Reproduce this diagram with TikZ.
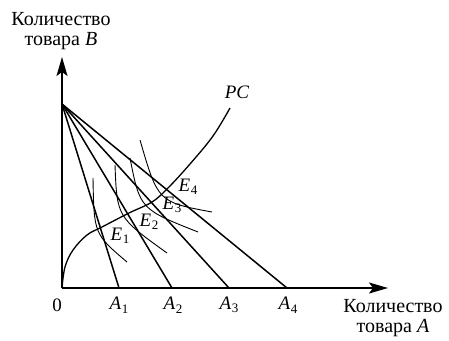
\documentclass[tikz,border=0pt]{standalone}
\usepackage{fontspec}
\setmainfont{Liberation Serif}
\usetikzlibrary{arrows.meta}
\newcommand\labsub[2]{\textit{#1}\kern0.5pt\raisebox{-0.4ex}{\fontsize{13}{13}\selectfont #2}}
\begin{document}
\begin{tikzpicture}[x=1pt,y=-1pt,
  axis/.style={line width=1.5pt,-{Stealth[length=19pt,width=11pt,inset=4pt]}},
  budget/.style={line width=1.5pt},
  icurve/.style={line width=0.9pt},
  pcurve/.style={line width=1.3pt},
  lbl/.style={inner sep=0pt,font=\fontsize{19}{21}\selectfont},
  txt/.style={inner sep=0pt,font=\fontsize{20}{20}\selectfont,align=center}]
\useasboundingbox (0,0) rectangle (449,340);
% key points
\coordinate (O) at (62,288);
\coordinate (Bt) at (62,57);
\coordinate (At) at (388,288);
\coordinate (P) at (62,104);
\coordinate (A1) at (119,288);
\coordinate (A2) at (172,288);
\coordinate (A3) at (229,288);
\coordinate (A4) at (287,288);
% axes
\draw[axis] (O) -- (Bt);
\draw[axis] (O) -- (At);
% budget lines
\foreach \i in {1,2,3,4} \draw[budget] (P) -- (A\i);
% price-consumption curve
\draw[pcurve] plot[smooth,tension=0.6] coordinates {(62,288) (65,267) (73,250) (87,235) (102,227) (129,213) (152,202) (168,188) (190,164) (213,136) (230,108)};
% indifference curves
\draw[icurve] (93,178) .. controls (94,234) .. (127,262);
\draw[icurve] (115,165) .. controls (117,217) .. (167,253);
\draw[icurve] (130,158) .. controls (140,209) .. (198,232);
\draw[icurve] (140,140) .. controls (158,202) .. (212,212);
% labels
\node[lbl] (l0) at (57,305) {0};
\node[lbl] (l1) at (119,305) {\labsub{A}{1}};
\node[lbl] (l2) at (173,305) {\labsub{A}{2}};
\node[lbl] (l3) at (229,305) {\labsub{A}{3}};
\node[lbl] (l4) at (288,305) {\labsub{A}{4}};
\node[lbl] (e1) at (120,236) {\labsub{E}{1}};
\node[lbl] (e2) at (149,222) {\labsub{E}{2}};
\node[lbl] (e3) at (172,205) {\labsub{E}{3}};
\node[lbl] (e4) at (188,187) {\labsub{E}{4}};
\node[lbl] (pc) at (237,92) {\textit{PC}};
\node[txt] (ty) at (61,31) {Количество\\товара \textit{B}};
\node[txt] (tx) at (393,318) {Количество\\товара \textit{A}};
\end{tikzpicture}
\end{document}
